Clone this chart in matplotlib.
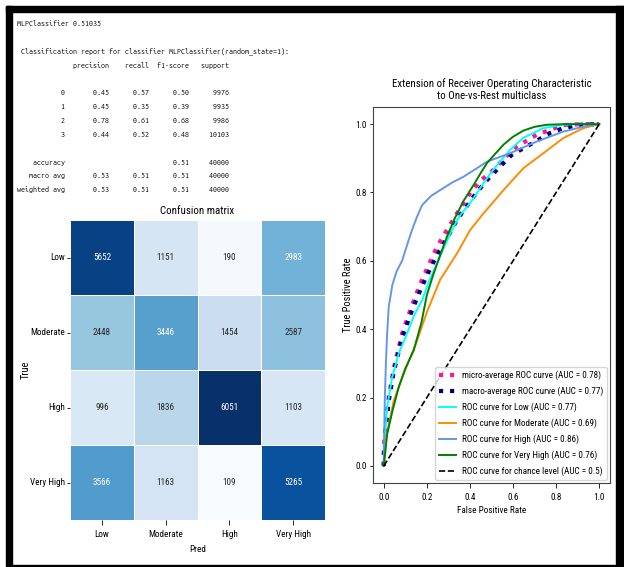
import numpy as np
import matplotlib
matplotlib.use("Agg")
import matplotlib.pyplot as plt
import seaborn as sns

W, H = 624, 567

# classification report
labels_num = ["0", "1", "2", "3"]
precision = [0.45, 0.45, 0.78, 0.44]
recall = [0.57, 0.35, 0.61, 0.52]
f1 = [0.50, 0.39, 0.68, 0.48]
support = [9976, 9935, 9986, 10103]
accuracy = 0.51
macro = [0.53, 0.51, 0.51]
weighted = [0.53, 0.51, 0.51]
total = 40000

# confusion matrix
classes = ["Low", "Moderate", "High", "Very High"]
cm = np.array([[5652, 1151, 190, 2983],
               [2448, 3446, 1454, 2587],
               [996, 1836, 6051, 1103],
               [3566, 1163, 109, 5265]])

# ROC curves
fpr_micro = [0, 0.0, 0.008, 0.023, 0.046, 0.085, 0.131, 0.17, 0.208, 0.247, 0.293, 0.34, 0.401, 0.45, 0.509, 0.56, 0.617, 0.71, 0.833, 0.92, 1.0]
tpr_micro = [0, 0.04, 0.113, 0.201, 0.284, 0.387, 0.47, 0.534, 0.587, 0.641, 0.69, 0.739, 0.798, 0.835, 0.866, 0.90, 0.934, 0.969, 0.997, 1.0, 1.0]
fpr_macro = [0, 0.0, 0.008, 0.023, 0.046, 0.085, 0.131, 0.17, 0.21, 0.25, 0.293, 0.34, 0.417, 0.47, 0.532, 0.594, 0.679, 0.772, 0.833, 0.91, 1.0]
tpr_macro = [0, 0.03, 0.10, 0.19, 0.275, 0.375, 0.455, 0.515, 0.57, 0.62, 0.666, 0.72, 0.788, 0.83, 0.871, 0.91, 0.94, 0.974, 0.988, 0.998, 1.0]
fpr_low = [0, 0.0, 0.016, 0.039, 0.07, 0.108, 0.14, 0.178, 0.21, 0.247, 0.28, 0.309, 0.35, 0.40, 0.45, 0.494, 0.54, 0.587, 0.648, 0.74, 0.833, 0.92, 1.0]
tpr_low = [0, 0.04, 0.172, 0.26, 0.33, 0.387, 0.44, 0.485, 0.54, 0.592, 0.64, 0.68, 0.73, 0.768, 0.815, 0.855, 0.89, 0.925, 0.96, 0.988, 0.998, 1.0, 1.0]
fpr_mod = [0, 0.008, 0.046, 0.093, 0.155, 0.20, 0.262, 0.34, 0.401, 0.463, 0.556, 0.648, 0.741, 0.833, 0.926, 1.0]
tpr_mod = [0, 0.074, 0.19, 0.27, 0.367, 0.45, 0.545, 0.622, 0.69, 0.739, 0.807, 0.871, 0.915, 0.959, 0.988, 1.0]
fpr_high = [0, 0.002, 0.005, 0.01, 0.015, 0.023, 0.04, 0.06, 0.085, 0.11, 0.131, 0.155, 0.178, 0.22, 0.262, 0.32, 0.37, 0.43, 0.479, 0.587, 0.71, 0.833, 0.93, 1.0]
tpr_high = [0, 0.1, 0.2, 0.3, 0.38, 0.465, 0.53, 0.57, 0.60, 0.65, 0.69, 0.73, 0.763, 0.79, 0.807, 0.83, 0.846, 0.87, 0.89, 0.915, 0.949, 0.978, 0.993, 1.0]
fpr_vh = [0, 0.016, 0.04, 0.069, 0.10, 0.139, 0.175, 0.20, 0.23, 0.262, 0.293, 0.33, 0.37, 0.417, 0.45, 0.479, 0.52, 0.556, 0.60, 0.648, 0.70, 0.756, 0.85, 1.0]
tpr_vh = [0, 0.094, 0.16, 0.23, 0.285, 0.338, 0.42, 0.50, 0.56, 0.617, 0.67, 0.725, 0.775, 0.822, 0.857, 0.886, 0.915, 0.94, 0.963, 0.981, 0.992, 0.998, 1.0, 1.0]
auc_micro, auc_macro = 0.78, 0.77
auc_cls = [0.77, 0.69, 0.86, 0.76]

plt.rcParams['font.family'] = ['Roboto Condensed', 'DejaVu Sans']
MONO = ['Ubuntu Mono', 'DejaVu Sans Mono']
FS = 6.6
TFS = 7.8


def box(l, t, r, b):
    # pixel box -> figure fraction rect
    return [l / W, 1 - b / H, (r - l) / W, (b - t) / H]


fig = plt.figure(figsize=(W / 100, H / 100), dpi=100)

# report text, same layout as sklearn's classification_report
lines = ["MLPClassifier 0.51035", "",
         " Classification report for classifier MLPClassifier(random_state=1):"]
lines.append("{:>12s} ".format("") + "".join(" {:>9}".format(h) for h in ["precision", "recall", "f1-score", "support"]))
lines.append("")
for i in range(4):
    lines.append("{:>12s} ".format(labels_num[i]) + "".join(" {:>9.2f}".format(v) for v in [precision[i], recall[i], f1[i]])
                 + " {:>9}".format(support[i]))
lines.append("")
lines.append("{:>12s} ".format("accuracy") + " {:>9}".format("") * 2 + " {:>9.2f}".format(accuracy) + " {:>9}".format(total))
lines.append("{:>12s} ".format("macro avg") + "".join(" {:>9.2f}".format(v) for v in macro) + " {:>9}".format(total))
lines.append("{:>12s} ".format("weighted avg") + "".join(" {:>9.2f}".format(v) for v in weighted) + " {:>9}".format(total))

# pick a mono size so a 68-char line is ~269 px wide, as in the screenshot
probe = fig.text(0, 0, "M" * 68, family=MONO, fontsize=10)
fig.canvas.draw()
mono_fs = 10 * 269.0 / probe.get_window_extent().width
probe.remove()

for i, s in enumerate(lines):
    fig.text(17.3 / W, 1 - (24 + 13.8 * i) / H, s, family=MONO,
             fontsize=mono_fs, va="center", ha="left")

# confusion matrix
ax1 = fig.add_axes(box(70, 220, 325, 520))
sns.heatmap(cm, annot=True, fmt="d", cmap="Blues", cbar=False, linewidths=0.5, linecolor="white",
            xticklabels=classes, yticklabels=classes, ax=ax1, annot_kws={"fontsize": FS})
ax1.set_title("Confusion matrix", fontsize=TFS, pad=4)
ax1.set_xlabel("Pred", fontsize=FS)
ax1.set_ylabel("True", fontsize=7.5)
ax1.xaxis.set_label_coords(0.5, -0.083)
ax1.yaxis.set_label_coords(-0.153, 0.5)
ax1.tick_params(labelsize=FS, width=0.6)
ax1.tick_params(axis="y", length=2.3, pad=1.5)
ax1.tick_params(axis="x", length=3.5, pad=3.5)
plt.setp(ax1.get_yticklabels(), rotation=0)
plt.setp(ax1.get_xticklabels(), rotation=0)

# roc
ax2 = fig.add_axes(box(373, 107, 610, 483))
ax2.plot(fpr_micro, tpr_micro, color="deeppink", linestyle=":", linewidth=3,
         label="micro-average ROC curve (AUC = {})".format(auc_micro))
ax2.plot(fpr_macro, tpr_macro, color="navy", linestyle=":", linewidth=3,
         label="macro-average ROC curve (AUC = {})".format(auc_macro))
curves = [(fpr_low, tpr_low), (fpr_mod, tpr_mod), (fpr_high, tpr_high), (fpr_vh, tpr_vh)]
colors = ["aqua", "darkorange", "cornflowerblue", "green"]
for (fx, ty), c, name, a in zip(curves, colors, classes, auc_cls):
    ax2.plot(fx, ty, color=c, linewidth=1.4, label="ROC curve for {} (AUC = {})".format(name, a))
ax2.plot([0, 1], [0, 1], "k--", linewidth=1.2, label="ROC curve for chance level (AUC = 0.5)")
ax2.set_xlim(-0.05, 1.05)
ax2.set_ylim(-0.05, 1.05)
ax2.set_xticks([0, 0.2, 0.4, 0.6, 0.8, 1.0])
ax2.set_yticks([0, 0.2, 0.4, 0.6, 0.8, 1.0])
ax2.tick_params(labelsize=FS, width=0.6)
ax2.tick_params(axis="y", length=2.3, pad=2.3)
ax2.set_xlabel("False Positive Rate", fontsize=FS)
ax2.set_ylabel("True Positive Rate", fontsize=7.5)
ax2.xaxis.set_label_coords(0.5, -0.061)
ax2.yaxis.set_label_coords(-0.084, 0.5)
ax2.set_title("Extension of Receiver Operating Characteristic\nto One-vs-Rest multiclass", fontsize=TFS, pad=6)
for sp in ax2.spines.values():
    sp.set_color("#444444")
ax2.legend(loc="lower right", fontsize=FS, labelspacing=0.7, handlelength=1.9,
           handletextpad=0.6, borderpad=0.4, borderaxespad=0.35)

# black screenshot frame
fig.patches.append(plt.Rectangle((6 / W, 1 - 12 / H), 618 / W, 6 / H, transform=fig.transFigure, color="black"))
fig.patches.append(plt.Rectangle((6 / W, 1 - 565 / H), 6 / W, 559 / H, transform=fig.transFigure, color="black"))
fig.patches.append(plt.Rectangle((616 / W, 1 - 565 / H), 8 / W, 559 / H, transform=fig.transFigure, color="black"))
fig.patches.append(plt.Rectangle((6 / W, 1 - 566 / H), 618 / W, 1.5 / H, transform=fig.transFigure, color="black"))

fig.savefig("out.png", dpi=100)
